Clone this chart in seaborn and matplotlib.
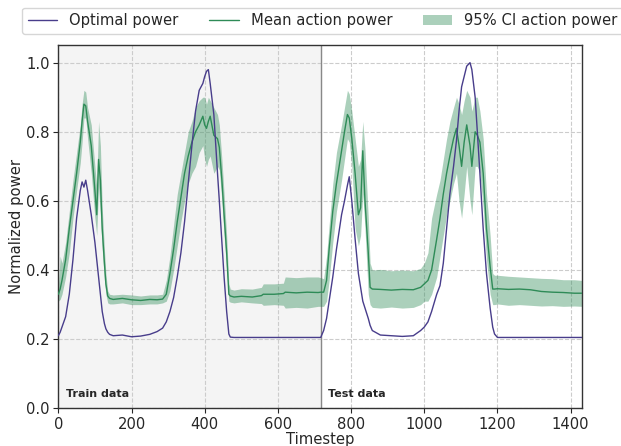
import matplotlib
matplotlib.use("Agg")
import pandas as pd
import seaborn as sns
from matplotlib import pyplot as plt

SPLIT = 717

TIMESTEP = [
    0, 5, 10, 20, 30, 40, 50, 60, 65, 70,
    75, 80, 90, 100, 105, 110, 115, 120, 126, 130,
    135, 140, 150, 175, 200, 225, 250, 270, 285, 295,
    305, 315, 325, 335, 345, 355, 365, 375, 385, 395,
    400, 405, 410, 415, 425, 435, 440, 447, 453, 460,
    466, 470, 480, 500, 530, 555, 560, 590, 615, 620,
    650, 680, 710, 717,
    725, 733, 740, 750, 760, 774, 782, 790, 795, 802,
    811, 820, 826, 832, 838, 847, 852, 858, 880, 910,
    940, 970, 990, 1000, 1010, 1020, 1034, 1043, 1052, 1061,
    1070, 1080, 1088, 1095, 1102, 1109, 1116, 1125, 1130, 1139,
    1145, 1152, 1161, 1170, 1180, 1187, 1192, 1200, 1230, 1260,
    1290, 1320, 1350, 1380, 1410, 1431,
]

OPTIMAL = [
    0.21, 0.22, 0.235, 0.265, 0.33, 0.43, 0.55, 0.63, 0.655, 0.64,
    0.66, 0.63, 0.56, 0.48, 0.43, 0.38, 0.33, 0.28, 0.245, 0.23,
    0.22, 0.214, 0.21, 0.212, 0.207, 0.209, 0.214, 0.222, 0.232, 0.25,
    0.28, 0.32, 0.38, 0.45, 0.54, 0.65, 0.76, 0.86, 0.92, 0.94,
    0.96, 0.975, 0.98, 0.94, 0.85, 0.68, 0.6, 0.48, 0.38, 0.28,
    0.215, 0.206, 0.205, 0.205, 0.205, 0.205, 0.205, 0.205, 0.205, 0.205,
    0.205, 0.205, 0.205, 0.205,
    0.225, 0.26, 0.31, 0.38, 0.46, 0.56, 0.6, 0.645, 0.67, 0.6,
    0.49, 0.39, 0.35, 0.31, 0.29, 0.26, 0.24, 0.225, 0.212, 0.21,
    0.208, 0.21, 0.225, 0.235, 0.25, 0.28, 0.33, 0.355, 0.42, 0.52,
    0.62, 0.7, 0.775, 0.86, 0.93, 0.96, 0.99, 1.0, 0.98, 0.9,
    0.8, 0.68, 0.52, 0.39, 0.29, 0.235, 0.215, 0.205, 0.205, 0.205,
    0.205, 0.205, 0.205, 0.205, 0.205, 0.205,
]

MEAN = [
    0.33, 0.345, 0.37, 0.43, 0.52, 0.6, 0.68, 0.77, 0.83, 0.88,
    0.875, 0.83, 0.76, 0.63, 0.56, 0.72, 0.66, 0.52, 0.42, 0.36,
    0.325, 0.318, 0.315, 0.318, 0.314, 0.312, 0.315, 0.314, 0.316, 0.33,
    0.39, 0.46, 0.54, 0.61, 0.68, 0.73, 0.77, 0.8, 0.82, 0.845,
    0.82, 0.81, 0.83, 0.845, 0.79, 0.78, 0.755, 0.66, 0.56, 0.45,
    0.33, 0.325, 0.322, 0.324, 0.322, 0.326, 0.33, 0.33, 0.332, 0.336,
    0.334, 0.336, 0.335, 0.336,
    0.336, 0.37, 0.46, 0.57, 0.65, 0.745, 0.8, 0.85, 0.84, 0.78,
    0.68, 0.56, 0.58, 0.745, 0.6, 0.45, 0.35, 0.345, 0.344, 0.342,
    0.344, 0.343, 0.35, 0.36, 0.37, 0.4, 0.49, 0.55, 0.62, 0.68,
    0.73, 0.78, 0.81, 0.76, 0.7, 0.77, 0.82, 0.76, 0.7, 0.8,
    0.79, 0.77, 0.68, 0.52, 0.41, 0.345, 0.345, 0.346, 0.344, 0.345,
    0.343, 0.338, 0.336, 0.335, 0.333, 0.333,
]

LOWER = [
    0.31, 0.315, 0.33, 0.38, 0.45, 0.55, 0.63, 0.71, 0.77, 0.84,
    0.84, 0.78, 0.68, 0.55, 0.5, 0.64, 0.56, 0.46, 0.37, 0.33,
    0.305, 0.302, 0.302, 0.305, 0.3, 0.3, 0.302, 0.302, 0.305, 0.31,
    0.34, 0.4, 0.47, 0.54, 0.6, 0.65, 0.68, 0.7, 0.74, 0.76,
    0.72, 0.7, 0.72, 0.73, 0.68, 0.7, 0.69, 0.6, 0.5, 0.4,
    0.31, 0.307, 0.305, 0.308, 0.305, 0.303, 0.298, 0.3, 0.298, 0.29,
    0.292, 0.29, 0.295, 0.295,
    0.295, 0.31, 0.37, 0.48, 0.57, 0.66, 0.72, 0.78, 0.77, 0.7,
    0.52, 0.47, 0.5, 0.62, 0.52, 0.33, 0.3, 0.292, 0.29, 0.293,
    0.29, 0.292, 0.3, 0.31, 0.31, 0.33, 0.38, 0.44, 0.5, 0.56,
    0.6, 0.65, 0.68, 0.6, 0.55, 0.62, 0.7, 0.6, 0.56, 0.7,
    0.7, 0.68, 0.58, 0.43, 0.33, 0.3, 0.3, 0.302, 0.298, 0.3,
    0.298, 0.296, 0.297, 0.295, 0.296, 0.295,
]

UPPER = [
    0.35, 0.44, 0.42, 0.48, 0.57, 0.66, 0.74, 0.82, 0.88, 0.92,
    0.915, 0.87, 0.82, 0.7, 0.64, 0.83, 0.76, 0.58, 0.46, 0.39,
    0.34, 0.33, 0.328, 0.33, 0.328, 0.325, 0.328, 0.328, 0.33, 0.37,
    0.44, 0.53, 0.62, 0.68, 0.74, 0.8, 0.83, 0.87, 0.89, 0.9,
    0.9, 0.88, 0.9, 0.89, 0.87, 0.85, 0.82, 0.72, 0.62, 0.5,
    0.36, 0.345, 0.342, 0.346, 0.345, 0.35, 0.36, 0.36, 0.362, 0.38,
    0.378, 0.38, 0.38, 0.378,
    0.375, 0.44, 0.53, 0.65, 0.74, 0.82, 0.87, 0.92, 0.91, 0.86,
    0.78, 0.7, 0.72, 0.83, 0.75, 0.55, 0.42, 0.4, 0.402, 0.398,
    0.4, 0.398, 0.405, 0.42, 0.45, 0.55, 0.62, 0.66, 0.72, 0.78,
    0.83, 0.87, 0.9, 0.88, 0.85, 0.89, 0.92, 0.9, 0.86, 0.9,
    0.9, 0.86, 0.78, 0.62, 0.5, 0.39, 0.385, 0.385, 0.382, 0.38,
    0.378, 0.376, 0.375, 0.372, 0.372, 0.37,
]

BLUE = "#483d8b"
GREEN = "#2e8b57"
FS = 10.6

sns.set_style("ticks")
plt.rcParams["font.family"] = ["DejaVu Sans"]
plt.rcParams["font.size"] = FS
plt.rcParams["xtick.labelsize"] = FS
plt.rcParams["ytick.labelsize"] = FS
plt.rcParams["axes.labelsize"] = FS
plt.rcParams["legend.fontsize"] = FS

df = pd.DataFrame({
    "Timestep": TIMESTEP,
    "optimal": OPTIMAL,
    "mean": MEAN,
    "lower": LOWER,
    "upper": UPPER,
})

fig = plt.figure(figsize=(6.21, 4.46), dpi=100)
ax = fig.add_axes([0.0939, 0.0845, 0.8433, 0.8153])

ax.axvspan(0, SPLIT, color="#f4f4f4", zorder=0)
ax.axvline(SPLIT, color="#888888", lw=1.0, zorder=1)

sns.lineplot(data=df, x="Timestep", y="optimal", color=BLUE, lw=1.0,
             label="Optimal power", ax=ax, zorder=4)
sns.lineplot(data=df, x="Timestep", y="mean", color=GREEN, lw=1.0,
             label="Mean action power", ax=ax, zorder=3)
ax.fill_between(df["Timestep"], df["lower"], df["upper"], color=GREEN,
                alpha=0.4, lw=0, label="95% CI action power", zorder=2)

ax.set_xlim(0, 1431)
ax.set_ylim(0, 1.052)
ax.set_xticks(range(0, 1401, 200))
ax.set_yticks([0.0, 0.2, 0.4, 0.6, 0.8, 1.0])
ax.tick_params(labelsize=FS, length=3.5, pad=2.5)
ax.set_xlabel("Timestep", fontsize=FS, labelpad=0)
ax.set_ylabel("Normalized power", fontsize=FS, labelpad=1.5)
ax.grid(True, linestyle="--", color="#cccccc", lw=0.8)
ax.set_axisbelow(True)
for s in ax.spines.values():
    s.set_color("#333333")
    s.set_linewidth(1.0)

ax.text(20, 0.04, "Train data", fontsize=8, fontweight="bold", va="center")
ax.text(SPLIT + 19, 0.04, "Test data", fontsize=8, fontweight="bold", va="center")

ax.legend(loc="lower center", bbox_to_anchor=(0.505, 1.0286), ncol=3,
          borderaxespad=0, frameon=True, fontsize=FS, columnspacing=2.1)

fig.savefig("out.png", dpi=100)
